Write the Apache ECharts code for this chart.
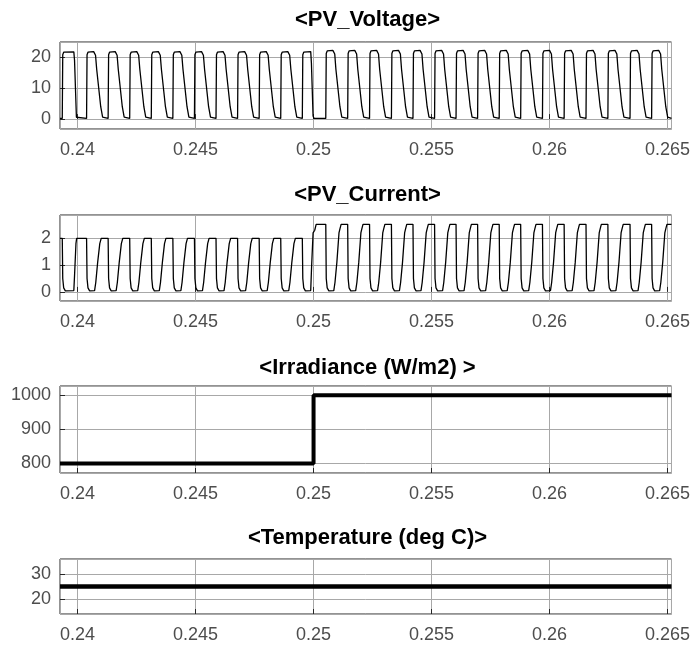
<!DOCTYPE html>
<html>
<head>
<meta charset="utf-8">
<script src="https://cdn.jsdelivr.net/npm/echarts@6/dist/echarts.min.js"></script>
<style>
html,body{margin:0;padding:0;background:#fff;}
#main{width:693px;height:646px;}
</style>
</head>
<body>
<div id="main"></div>
<script>
// time window of the scope (s)
var tStart = 0.239254, tEnd = 0.265170;

// <PV_Voltage> : [t, V], one row per switching cycle
var pvVoltage = [
	[0.239254,0.2],[0.239350,0.2],[0.239370,20.8],[0.239410,21.6],[0.239840,21.7],[0.239870,19],[0.239950,0.6],[0.239990,0.2],
	[0.240380,0.2],[0.240400,20.8],[0.240440,21.6],[0.240680,21.8],[0.240760,20.6],[0.240810,16],[0.240980,4],[0.241060,0.6],[0.241110,0.2],
	[0.241294,0.2],[0.241314,20.8],[0.241354,21.6],[0.241594,21.8],[0.241674,20.6],[0.241724,16],[0.241894,4],[0.241974,0.6],[0.242024,0.2],
	[0.242208,0.2],[0.242228,20.8],[0.242268,21.6],[0.242508,21.8],[0.242588,20.6],[0.242638,16],[0.242808,4],[0.242888,0.6],[0.242938,0.2],
	[0.243123,0.2],[0.243143,20.8],[0.243183,21.6],[0.243423,21.8],[0.243503,20.6],[0.243553,16],[0.243723,4],[0.243803,0.6],[0.243853,0.2],
	[0.244037,0.2],[0.244057,20.8],[0.244097,21.6],[0.244337,21.8],[0.244417,20.6],[0.244467,16],[0.244637,4],[0.244717,0.6],[0.244767,0.2],
	[0.244952,0.2],[0.244972,20.8],[0.245012,21.6],[0.245252,21.8],[0.245332,20.6],[0.245382,16],[0.245552,4],[0.245632,0.6],[0.245682,0.2],
	[0.245866,0.2],[0.245886,20.8],[0.245926,21.6],[0.246166,21.8],[0.246246,20.6],[0.246296,16],[0.246466,4],[0.246546,0.6],[0.246596,0.2],
	[0.246780,0.2],[0.246800,20.8],[0.246840,21.6],[0.247080,21.8],[0.247160,20.6],[0.247210,16],[0.247380,4],[0.247460,0.6],[0.247510,0.2],
	[0.247695,0.2],[0.247715,20.8],[0.247755,21.6],[0.247995,21.8],[0.248075,20.6],[0.248125,16],[0.248295,4],[0.248375,0.6],[0.248425,0.2],
	[0.248609,0.2],[0.248629,20.8],[0.248669,21.6],[0.248909,21.8],[0.248989,20.6],[0.249039,16],[0.249209,4],[0.249289,0.6],[0.249339,0.2],
	[0.249524,0.2],[0.249544,20.8],[0.249584,21.6],[0.249880,21.8],[0.249910,18],[0.249980,1],[0.250020,0.2],
	[0.250518,0.2],[0.250538,21.2],[0.250578,22.0],[0.250818,22.2],[0.250898,21],[0.250948,16],[0.251118,4],[0.251198,0.6],[0.251248,0.2],
	[0.251446,0.2],[0.251466,21.2],[0.251506,22.0],[0.251746,22.2],[0.251826,21],[0.251876,16],[0.252046,4],[0.252126,0.6],[0.252176,0.2],
	[0.252373,0.2],[0.252393,21.2],[0.252433,22.0],[0.252673,22.2],[0.252753,21],[0.252803,16],[0.252973,4],[0.253053,0.6],[0.253103,0.2],
	[0.253300,0.2],[0.253320,21.2],[0.253360,22.0],[0.253600,22.2],[0.253680,21],[0.253730,16],[0.253900,4],[0.253980,0.6],[0.254030,0.2],
	[0.254214,0.2],[0.254234,21.2],[0.254274,22.0],[0.254514,22.2],[0.254594,21],[0.254644,16],[0.254814,4],[0.254894,0.6],[0.254944,0.2],
	[0.255129,0.2],[0.255149,21.2],[0.255189,22.0],[0.255429,22.2],[0.255509,21],[0.255559,16],[0.255729,4],[0.255809,0.6],[0.255859,0.2],
	[0.256039,0.2],[0.256059,21.2],[0.256099,22.0],[0.256339,22.2],[0.256419,21],[0.256469,16],[0.256639,4],[0.256719,0.6],[0.256769,0.2],
	[0.256953,0.2],[0.256973,21.2],[0.257013,22.0],[0.257253,22.2],[0.257333,21],[0.257383,16],[0.257553,4],[0.257633,0.6],[0.257683,0.2],
	[0.257868,0.2],[0.257888,21.2],[0.257928,22.0],[0.258168,22.2],[0.258248,21],[0.258298,16],[0.258468,4],[0.258548,0.6],[0.258598,0.2],
	[0.258778,0.2],[0.258798,21.2],[0.258838,22.0],[0.259078,22.2],[0.259158,21],[0.259208,16],[0.259378,4],[0.259458,0.6],[0.259508,0.2],
	[0.259701,0.2],[0.259721,21.2],[0.259761,22.0],[0.260001,22.2],[0.260081,21],[0.260131,16],[0.260301,4],[0.260381,0.6],[0.260431,0.2],
	[0.260620,0.2],[0.260640,21.2],[0.260680,22.0],[0.260920,22.2],[0.261000,21],[0.261050,16],[0.261220,4],[0.261300,0.6],[0.261350,0.2],
	[0.261547,0.2],[0.261567,21.2],[0.261607,22.0],[0.261847,22.2],[0.261927,21],[0.261977,16],[0.262147,4],[0.262227,0.6],[0.262277,0.2],
	[0.262474,0.2],[0.262494,21.2],[0.262534,22.0],[0.262774,22.2],[0.262854,21],[0.262904,16],[0.263074,4],[0.263154,0.6],[0.263204,0.2],
	[0.263413,0.2],[0.263433,21.2],[0.263473,22.0],[0.263713,22.2],[0.263793,21],[0.263843,16],[0.264013,4],[0.264093,0.6],[0.264143,0.2],
	[0.264328,0.2],[0.264348,21.2],[0.264388,22.0],[0.264628,22.2],[0.264708,21],[0.264758,16],[0.264928,4],[0.265008,0.6],[0.265058,0.2],
	[0.265170,0.2]
];

// <PV_Current> : [t, A]
var pvCurrent = [
	[0.239254,2.0],[0.239350,2.0],[0.239370,0.5],[0.239410,0.15],[0.239480,0.04],[0.239840,0.05],[0.239870,0.6],[0.239930,1.8],[0.239960,2.0],
	[0.240380,2.0],[0.240400,0.5],[0.240440,0.15],[0.240510,0.04],[0.240720,0.05],[0.240770,0.35],[0.240850,1.1],[0.240940,1.8],[0.241000,2.0],
	[0.241294,2.0],[0.241314,0.5],[0.241354,0.15],[0.241424,0.04],[0.241634,0.05],[0.241684,0.35],[0.241764,1.1],[0.241854,1.8],[0.241914,2.0],
	[0.242208,2.0],[0.242228,0.5],[0.242268,0.15],[0.242338,0.04],[0.242548,0.05],[0.242598,0.35],[0.242678,1.1],[0.242768,1.8],[0.242828,2.0],
	[0.243123,2.0],[0.243143,0.5],[0.243183,0.15],[0.243253,0.04],[0.243463,0.05],[0.243513,0.35],[0.243593,1.1],[0.243683,1.8],[0.243743,2.0],
	[0.244037,2.0],[0.244057,0.5],[0.244097,0.15],[0.244167,0.04],[0.244377,0.05],[0.244427,0.35],[0.244507,1.1],[0.244597,1.8],[0.244657,2.0],
	[0.244952,2.0],[0.244972,0.5],[0.245012,0.15],[0.245082,0.04],[0.245292,0.05],[0.245342,0.35],[0.245422,1.1],[0.245512,1.8],[0.245572,2.0],
	[0.245866,2.0],[0.245886,0.5],[0.245926,0.15],[0.245996,0.04],[0.246206,0.05],[0.246256,0.35],[0.246336,1.1],[0.246426,1.8],[0.246486,2.0],
	[0.246780,2.0],[0.246800,0.5],[0.246840,0.15],[0.246910,0.04],[0.247120,0.05],[0.247170,0.35],[0.247250,1.1],[0.247340,1.8],[0.247400,2.0],
	[0.247695,2.0],[0.247715,0.5],[0.247755,0.15],[0.247825,0.04],[0.248035,0.05],[0.248085,0.35],[0.248165,1.1],[0.248255,1.8],[0.248315,2.0],
	[0.248609,2.0],[0.248629,0.5],[0.248669,0.15],[0.248739,0.04],[0.248949,0.05],[0.248999,0.35],[0.249079,1.1],[0.249169,1.8],[0.249229,2.0],
	[0.249524,2.0],[0.249544,0.5],[0.249584,0.15],[0.249654,0.04],[0.249880,0.05],[0.249920,1.0],[0.249980,2.2],[0.250050,2.3],[0.250110,2.52],
	[0.250518,2.52],[0.250538,0.5],[0.250578,0.15],[0.250648,0.04],[0.250858,0.05],[0.250908,0.35],[0.250988,1.1],[0.251078,2.2],[0.251118,2.35],[0.251168,2.52],
	[0.251446,2.52],[0.251466,0.5],[0.251506,0.15],[0.251576,0.04],[0.251786,0.05],[0.251836,0.35],[0.251916,1.1],[0.252006,2.2],[0.252046,2.35],[0.252096,2.52],
	[0.252373,2.52],[0.252393,0.5],[0.252433,0.15],[0.252503,0.04],[0.252713,0.05],[0.252763,0.35],[0.252843,1.1],[0.252933,2.2],[0.252973,2.35],[0.253023,2.52],
	[0.253300,2.52],[0.253320,0.5],[0.253360,0.15],[0.253430,0.04],[0.253640,0.05],[0.253690,0.35],[0.253770,1.1],[0.253860,2.2],[0.253900,2.35],[0.253950,2.52],
	[0.254214,2.52],[0.254234,0.5],[0.254274,0.15],[0.254344,0.04],[0.254554,0.05],[0.254604,0.35],[0.254684,1.1],[0.254774,2.2],[0.254814,2.35],[0.254864,2.52],
	[0.255129,2.52],[0.255149,0.5],[0.255189,0.15],[0.255259,0.04],[0.255469,0.05],[0.255519,0.35],[0.255599,1.1],[0.255689,2.2],[0.255729,2.35],[0.255779,2.52],
	[0.256039,2.52],[0.256059,0.5],[0.256099,0.15],[0.256169,0.04],[0.256379,0.05],[0.256429,0.35],[0.256509,1.1],[0.256599,2.2],[0.256639,2.35],[0.256689,2.52],
	[0.256953,2.52],[0.256973,0.5],[0.257013,0.15],[0.257083,0.04],[0.257293,0.05],[0.257343,0.35],[0.257423,1.1],[0.257513,2.2],[0.257553,2.35],[0.257603,2.52],
	[0.257868,2.52],[0.257888,0.5],[0.257928,0.15],[0.257998,0.04],[0.258208,0.05],[0.258258,0.35],[0.258338,1.1],[0.258428,2.2],[0.258468,2.35],[0.258518,2.52],
	[0.258778,2.52],[0.258798,0.5],[0.258838,0.15],[0.258908,0.04],[0.259118,0.05],[0.259168,0.35],[0.259248,1.1],[0.259338,2.2],[0.259378,2.35],[0.259428,2.52],
	[0.259701,2.52],[0.259721,0.5],[0.259761,0.15],[0.259831,0.04],[0.260041,0.05],[0.260091,0.35],[0.260171,1.1],[0.260261,2.2],[0.260301,2.35],[0.260351,2.52],
	[0.260620,2.52],[0.260640,0.5],[0.260680,0.15],[0.260750,0.04],[0.260960,0.05],[0.261010,0.35],[0.261090,1.1],[0.261180,2.2],[0.261220,2.35],[0.261270,2.52],
	[0.261547,2.52],[0.261567,0.5],[0.261607,0.15],[0.261677,0.04],[0.261887,0.05],[0.261937,0.35],[0.262017,1.1],[0.262107,2.2],[0.262147,2.35],[0.262197,2.52],
	[0.262474,2.52],[0.262494,0.5],[0.262534,0.15],[0.262604,0.04],[0.262814,0.05],[0.262864,0.35],[0.262944,1.1],[0.263034,2.2],[0.263074,2.35],[0.263124,2.52],
	[0.263413,2.52],[0.263433,0.5],[0.263473,0.15],[0.263543,0.04],[0.263753,0.05],[0.263803,0.35],[0.263883,1.1],[0.263973,2.2],[0.264013,2.35],[0.264063,2.52],
	[0.264328,2.52],[0.264348,0.5],[0.264388,0.15],[0.264458,0.04],[0.264668,0.05],[0.264718,0.35],[0.264798,1.1],[0.264888,2.2],[0.264928,2.35],[0.264978,2.52],
	[0.265170,2.52]
];

// <Irradiance (W/m2) > : step at 0.25 s
var irradiance = [[0.239254,800],[0.25,800],[0.25,1000],[0.265170,1000]];
// <Temperature (deg C)>
var temperature = [[0.239254,25],[0.265170,25]];

var titles = ['<PV_Voltage>', '<PV_Current>', '<Irradiance (W/m2) >', '<Temperature (deg C)>'];
var yMin = [-3.2, -0.34, 772, 14];
var yMax = [24.9, 2.87, 1027, 36];
var ySplit = [3, 3, 3, 2];

var myChart = echarts.init(document.getElementById('main'));

var grids = [
	{left:60, right:18, top:42, height:87},
	{left:60, right:18, top:215, height:86},
	{left:60, right:18, top:386, height:87},
	{left:60, right:18, top:559, height:55}
];
var titleY = [20, 195, 368, 538];

// plain number labels (no thousands separator)
function plainLabel(v){
	return String(+v.toFixed(6));
}

var xAxes = [], yAxes = [], graphics = [];
for(var i = 0; i < 4; i++){
	grids[i].show = true;
	grids[i].borderColor = '#262626';
	grids[i].borderWidth = 1;
	xAxes.push({
		type:'value', gridIndex:i, min:tStart, max:tEnd, splitNumber:5,
		axisLine:{show:false},
		axisTick:{show:true, inside:true, length:5, lineStyle:{color:'#262626'}},
		axisLabel:{showMinLabel:false, showMaxLabel:false, margin:12, color:'#4d4d4d', fontSize:18, fontFamily:'Liberation Sans, Arial, sans-serif', formatter:plainLabel},
		splitLine:{show:true, lineStyle:{color:'#a8a8a8', width:1}}
	});
	yAxes.push({
		type:'value', gridIndex:i, min:yMin[i], max:yMax[i], splitNumber:ySplit[i],
		axisLine:{show:false},
		axisTick:{show:true, inside:true, length:5, lineStyle:{color:'#262626'}},
		axisLabel:{showMinLabel:false, showMaxLabel:false, margin:9, color:'#4d4d4d', fontSize:18, fontFamily:'Liberation Sans, Arial, sans-serif', formatter:plainLabel},
		splitLine:{show:true, lineStyle:{color:'#a8a8a8', width:1}}
	});
	graphics.push({
		type:'text', x:367.5, y:titleY[i],
		style:{text:titles[i], align:'center', verticalAlign:'middle', fill:'#000', font:'bold 22px "Liberation Sans", Arial, sans-serif'}
	});
}

option = {
	animation:false,
	backgroundColor:'#fff',
	grid:grids,
	xAxis:xAxes,
	yAxis:yAxes,
	graphic:graphics,
	series:[
		{type:'line', xAxisIndex:0, yAxisIndex:0, data:pvVoltage, showSymbol:false, lineStyle:{color:'#000', width:1.3}},
		{type:'line', xAxisIndex:1, yAxisIndex:1, data:pvCurrent, showSymbol:false, lineStyle:{color:'#000', width:1.3}},
		{type:'line', xAxisIndex:2, yAxisIndex:2, data:irradiance, showSymbol:false, lineStyle:{color:'#000', width:4}},
		{type:'line', xAxisIndex:3, yAxisIndex:3, data:temperature, showSymbol:false, lineStyle:{color:'#000', width:4.5}}
	]
};
myChart.setOption(option);
</script>
</body>
</html>
